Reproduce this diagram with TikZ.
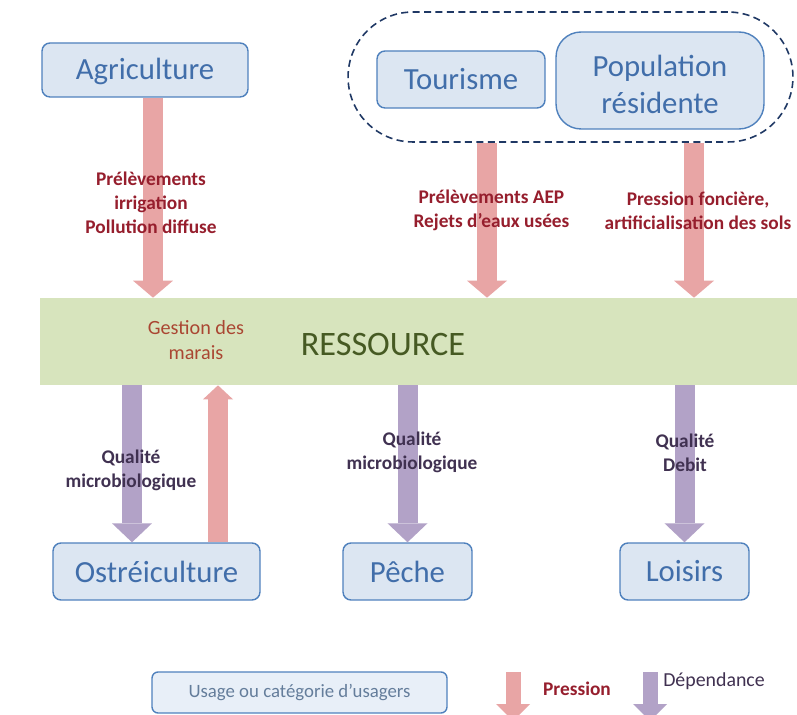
\documentclass[tikz,border=0pt]{standalone}
\usepackage{fontspec}
\setmainfont{Carlito}
\usetikzlibrary{arrows.meta, positioning}
\definecolor{boxblue}{RGB}{220,230,242}
\definecolor{lineblue}{RGB}{79,129,189}
\definecolor{textblue}{RGB}{65,110,170}
\definecolor{legfill}{RGB}{232,239,248}
\definecolor{legtext}{RGB}{100,125,155}
\definecolor{presspink}{RGB}{232,165,165}
\definecolor{deppurple}{RGB}{178,162,199}
\definecolor{resgreen}{RGB}{215,228,189}
\definecolor{resolive}{RGB}{70,90,35}
\definecolor{pressred}{RGB}{150,30,45}
\definecolor{gestred}{RGB}{170,70,50}
\definecolor{depdark}{RGB}{64,49,81}
\definecolor{groupnavy}{RGB}{31,56,100}

\begin{document}
\begin{tikzpicture}[x=0.02cm, y=-0.02cm,
  usage/.style={draw=lineblue, fill=boxblue, line width=0.8pt, rounded corners=0.16cm,
    minimum height=1.14cm, align=center, text=textblue, font=\fontsize{17.5}{21}\selectfont},
  group/.style={draw=groupnavy, dashed, dash pattern=on 4pt off 2.5pt, line width=0.9pt,
    rounded corners=1.3cm, minimum width=8.9cm, minimum height=2.6cm},
  band/.style={fill=resgreen, minimum width=15.14cm, minimum height=1.74cm, inner sep=0pt},
  pression/.style={presspink, line width=0.4cm, -{Triangle[width=0.8cm, length=0.34cm, line width=0pt]}},
  dependance/.style={deppurple, line width=0.4cm, -{Triangle[width=0.8cm, length=0.38cm, line width=0pt]}},
  presstxt/.style={align=center, text=pressred, font=\bfseries\fontsize{11}{13.8}\selectfont},
  deptxt/.style={align=center, text=depdark, font=\bfseries\fontsize{11}{13.8}\selectfont}
]
  \useasboundingbox[fill=white] (0,0) rectangle (797,715);

  % ressource band
  \node[band] (ress) at (418.5,341.5) {};
  \node[text=resolive, font=\fontsize{19.5}{23}\selectfont] (restitle) at (383,345) {RESSOURCE};

  % usages
  \node[usage, minimum width=4.12cm, minimum height=1.08cm] (agri) at (145,70) {\rule{0pt}{14pt}Agriculture};
  \node[group] (grp) at (570.5,77) {};
  \node[usage, minimum width=3.36cm] (tour) at (461,79.5) {Tourisme};
  \node[usage, minimum width=4.16cm, minimum height=1.94cm, rounded corners=0.5cm] (popu) at (660,80.5) {\rule{0pt}{17pt}Population\\résidente};
  \node[usage, minimum width=4.14cm] (ostr) at (156.5,571.5) {Ostréiculture};
  \node[usage, minimum width=2.58cm] (peche) at (407.5,571.5) {Pêche};
  \node[usage, minimum width=2.58cm] (lois) at (684.5,571.5) {Loisirs};

  \coordinate (colagri) at (153,0);
  \coordinate (coltour) at (487,0);
  \coordinate (colpopu) at (694,0);
  \coordinate (colostr) at (132,0);
  \coordinate (colgest) at (218,0);

  % pressions
  \draw[pression] (agri.south -| colagri) -- (colagri |- ress.north);
  \draw[pression] (grp.south -| coltour) -- (coltour |- ress.north);
  \draw[pression] (grp.south -| colpopu) -- (colpopu |- ress.north);
  \draw[presspink, line width=0.4cm, -{Triangle[width=0.6cm, length=0.28cm, line width=0pt]}]
    (ostr.north -| colgest) -- (colgest |- ress.south);

  % dependances
  \draw[dependance] (colostr |- ress.south) -- (ostr.north -| colostr);
  \draw[dependance] (peche |- ress.south) -- (peche.north);
  \draw[dependance] (lois |- ress.south) -- (lois.north);

  \node[presstxt] (agrilbl) at (151,203) {Prélèvements\\irrigation\\Pollution diffuse};
  \node[presstxt] (tourlbl) at (491.5,210.5) {Prélèvements AEP\\Rejets d’eaux usées};
  \node[presstxt] (populbl) at (698,210.5) {Pression foncière,\\artificialisation des sols};
  \node[align=center, text=gestred, font=\fontsize{11.5}{13.8}\selectfont] (gestlbl) at (196,340) {Gestion des\\marais};
  \node[deptxt] (ostrlbl) at (131,470) {Qualité\\microbiologique};
  \node[deptxt] (pechlbl) at (412,452) {Qualité\\microbiologique};
  \node[deptxt] (loislbl) at (685,453) {Qualité\\Debit};

  % legend
  \node[usage, fill=legfill, minimum width=5.9cm, minimum height=0.82cm, rounded corners=0.12cm,
    text=legtext, font=\fontsize{10.7}{13}\selectfont] (legusage) at (299.5,692.5) {Usage ou catégorie d'usagers};
  \draw[presspink, line width=0.3cm, -{Triangle[width=0.68cm, length=0.34cm, line width=0pt]}] (513,672) -- (513,721);
  \node[text=pressred, font=\bfseries\fontsize{11}{13}\selectfont] (legpress) at (577,689) {Pression};
  \draw[deppurple, line width=0.3cm, -{Triangle[width=0.68cm, length=0.34cm, line width=0pt]}] (650,672) -- (650,721);
  \node[text=depdark, font=\fontsize{11.3}{13}\selectfont] (legdep) at (714,681) {Dépendance};
\end{tikzpicture}
\end{document}
